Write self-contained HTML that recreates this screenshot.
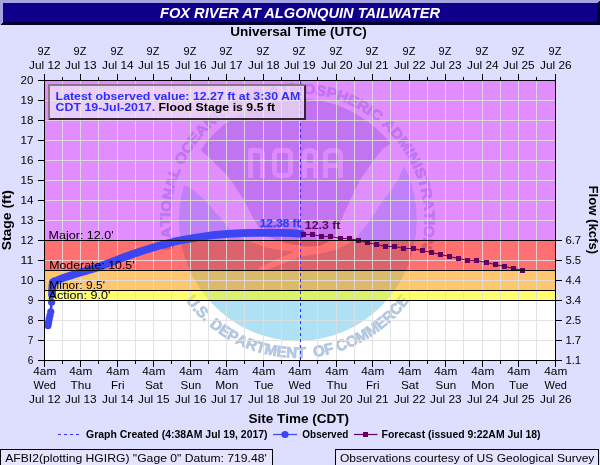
<!DOCTYPE html>
<html><head><meta charset="utf-8"><title>FOX RIVER AT ALGONQUIN TAILWATER</title>
<style>html,body{margin:0;padding:0;background:#dedeff;}svg{display:block;will-change:transform;}text{font-family:"Liberation Sans", sans-serif;}</style></head><body>
<svg width="600" height="465" viewBox="0 0 600 465">
<rect x="0" y="0" width="600" height="465" fill="#dedeff"/>
<g shape-rendering="crispEdges">
<rect x="0" y="0" width="600" height="25" fill="#0f008c"/>
<polygon points="0,0 600,0 597,3 3,3 3,22 0,25" fill="#a3a3dd"/>
<polygon points="600,0 600,25 0,25 3,22 597,22 597,3" fill="#000028"/>
</g>
<text x="300" y="18.2" text-anchor="middle" font-size="14.67" font-weight="bold" font-style="italic" fill="#ffffff" textLength="280" lengthAdjust="spacingAndGlyphs">FOX RIVER AT ALGONQUIN TAILWATER</text>
<rect x="45" y="81" width="510" height="279" fill="#ffffff"/>
<defs><clipPath id="pc"><rect x="45" y="81" width="510" height="279"/></clipPath>
<clipPath id="dc"><ellipse cx="297.9" cy="219.8" rx="119.1" ry="121.3"/></clipPath>
</defs>
<g clip-path="url(#pc)"><g opacity="0.31">
<g clip-path="url(#dc)">
<ellipse cx="297.9" cy="219.8" rx="119.1" ry="121.3" fill="#00a0dc"/>
<polygon points="170,192 181,192 181.5,188.5 183.5,185.8 186.5,186 190.5,188 199,195 205.4,200.5 208.5,203.9 215,212 222.7,220.5 226.5,225.7 230.2,230.2 238,236 246,240 253,242.5 264,247 279,250 294.5,251.4 280,258 259.8,267.3 258,269.5 266.3,270 288,261.8 301,256.4 318,254 338,249 353.6,240.5 369.9,220.5 382.8,200.5 392,189.5 398.5,178.8 402.5,169 404.5,166 407,168 409,175 430,175 430,90 170,90" fill="#ffffff"/>
<polygon points="190,141 200,149.4 208.5,156.9 217,165.5 226.5,174.6 231,180.5 238,191 244.5,201 249.5,211 254.4,220.5 261,230 268,236.5 278,241 290,244 305,246.5 320,246 331,240.5 335,236 341,220.5 350.1,200.5 359.6,180.5 365.7,172 372.7,161.6 383,148.7 391.6,142.7 402,136 402,90 190,90" fill="#10469c"/>
<g fill="none" stroke="#ffffff" stroke-width="5" stroke-linejoin="round" stroke-opacity="0.85">
<path d="M250.5,178 V150.5 H258 Q262.5,150.5 262.5,155 V178"/>
<rect x="274.5" y="150.5" width="16" height="25" rx="4"/>
<path d="M304.5,178 V155 Q304.5,150.5 310,150.5 Q315.5,150.5 315.5,155 V178 M304.5,165.5 H315.5"/>
<path d="M325.5,178 V155 Q325.5,150.5 333,150.5 Q340.5,150.5 340.5,155 V178 M325.5,165.5 H340.5"/>
</g>
</g>
<g font-size="14.2" font-weight="bold" fill="#0a4c9c" stroke="#0a4c9c" stroke-width="0.8">
<text transform="translate(172.41,243.55) rotate(259.56) scale(1.109,1)" text-anchor="middle">N</text><text transform="translate(170.85,232.29) rotate(264.68) scale(1.109,1)" text-anchor="middle">A</text><text transform="translate(170.31,221.81) rotate(269.41) scale(1.109,1)" text-anchor="middle">T</text><text transform="translate(170.43,214.81) rotate(272.56) scale(1.109,1)" text-anchor="middle">I</text><text transform="translate(171.07,206.53) rotate(276.31) scale(1.109,1)" text-anchor="middle">O</text><text transform="translate(172.91,194.86) rotate(281.63) scale(1.109,1)" text-anchor="middle">N</text><text transform="translate(175.70,183.84) rotate(286.75) scale(1.109,1)" text-anchor="middle">A</text><text transform="translate(179.13,173.93) rotate(291.48) scale(1.109,1)" text-anchor="middle">L</text><text transform="translate(185.37,160.44) rotate(298.18) scale(1.109,1)" text-anchor="middle">O</text><text transform="translate(191.43,150.30) rotate(303.50) scale(1.109,1)" text-anchor="middle">C</text><text transform="translate(197.85,141.45) rotate(308.42) scale(1.109,1)" text-anchor="middle">E</text><text transform="translate(205.00,133.18) rotate(313.35) scale(1.109,1)" text-anchor="middle">A</text><text transform="translate(213.17,125.27) rotate(318.47) scale(1.109,1)" text-anchor="middle">N</text><text transform="translate(219.22,120.24) rotate(322.02) scale(1.109,1)" text-anchor="middle">I</text><text transform="translate(225.57,115.59) rotate(325.57) scale(1.109,1)" text-anchor="middle">C</text><text transform="translate(238.69,107.71) rotate(332.46) scale(1.109,1)" text-anchor="middle">A</text><text transform="translate(249.00,102.91) rotate(337.58) scale(1.109,1)" text-anchor="middle">N</text><text transform="translate(259.69,99.05) rotate(342.71) scale(1.109,1)" text-anchor="middle">D</text><text transform="translate(274.55,95.39) rotate(349.60) scale(1.109,1)" text-anchor="middle">A</text><text transform="translate(284.94,93.92) rotate(354.33) scale(1.109,1)" text-anchor="middle">T</text><text transform="translate(296.28,93.31) rotate(359.45) scale(1.109,1)" text-anchor="middle">M</text><text transform="translate(308.95,93.82) rotate(365.17) scale(1.109,1)" text-anchor="middle">O</text><text transform="translate(320.22,95.35) rotate(370.29) scale(1.109,1)" text-anchor="middle">S</text><text transform="translate(330.47,97.65) rotate(375.02) scale(1.109,1)" text-anchor="middle">P</text><text transform="translate(340.90,100.93) rotate(379.95) scale(1.109,1)" text-anchor="middle">H</text><text transform="translate(351.00,105.10) rotate(384.87) scale(1.109,1)" text-anchor="middle">E</text><text transform="translate(360.72,110.12) rotate(389.80) scale(1.109,1)" text-anchor="middle">R</text><text transform="translate(367.42,114.24) rotate(393.35) scale(1.109,1)" text-anchor="middle">I</text><text transform="translate(373.86,118.77) rotate(396.89) scale(1.109,1)" text-anchor="middle">C</text><text transform="translate(385.53,128.68) rotate(403.79) scale(1.109,1)" text-anchor="middle">A</text><text transform="translate(393.37,136.90) rotate(408.91) scale(1.109,1)" text-anchor="middle">D</text><text transform="translate(400.96,146.51) rotate(414.43) scale(1.109,1)" text-anchor="middle">M</text><text transform="translate(405.80,153.79) rotate(418.37) scale(1.109,1)" text-anchor="middle">I</text><text transform="translate(409.72,160.62) rotate(421.92) scale(1.109,1)" text-anchor="middle">N</text><text transform="translate(413.21,167.67) rotate(425.46) scale(1.109,1)" text-anchor="middle">I</text><text transform="translate(416.10,174.53) rotate(428.81) scale(1.109,1)" text-anchor="middle">S</text><text transform="translate(419.36,184.04) rotate(433.34) scale(1.109,1)" text-anchor="middle">T</text><text transform="translate(421.95,194.21) rotate(438.07) scale(1.109,1)" text-anchor="middle">R</text><text transform="translate(423.80,205.43) rotate(443.20) scale(1.109,1)" text-anchor="middle">A</text><text transform="translate(424.62,215.89) rotate(447.92) scale(1.109,1)" text-anchor="middle">T</text><text transform="translate(424.68,222.89) rotate(451.07) scale(1.109,1)" text-anchor="middle">I</text><text transform="translate(424.25,231.19) rotate(454.82) scale(1.109,1)" text-anchor="middle">O</text><text transform="translate(422.71,242.89) rotate(460.14) scale(1.109,1)" text-anchor="middle">N</text>
</g>
<g font-size="15.2" font-weight="bold" fill="#0a4c9c" stroke="#0a4c9c" stroke-width="0.8">
<text transform="translate(188.88,304.65) rotate(52.23) scale(0.991,1)" text-anchor="middle">U</text><text transform="translate(193.66,310.47) rotate(49.09) scale(0.991,1)" text-anchor="middle">.</text><text transform="translate(198.45,315.73) rotate(46.13) scale(0.991,1)" text-anchor="middle">S</text><text transform="translate(203.51,320.72) rotate(43.16) scale(0.991,1)" text-anchor="middle">.</text><text transform="translate(213.37,329.13) rotate(37.76) scale(0.991,1)" text-anchor="middle">D</text><text transform="translate(221.88,335.22) rotate(33.39) scale(0.991,1)" text-anchor="middle">E</text><text transform="translate(230.45,340.43) rotate(29.21) scale(0.991,1)" text-anchor="middle">P</text><text transform="translate(239.77,345.18) rotate(24.85) scale(0.991,1)" text-anchor="middle">A</text><text transform="translate(249.80,349.36) rotate(20.31) scale(0.991,1)" text-anchor="middle">R</text><text transform="translate(259.33,352.49) rotate(16.13) scale(0.991,1)" text-anchor="middle">T</text><text transform="translate(269.88,355.10) rotate(11.59) scale(0.991,1)" text-anchor="middle">M</text><text transform="translate(281.03,356.91) rotate(6.89) scale(0.991,1)" text-anchor="middle">E</text><text transform="translate(291.45,357.77) rotate(2.53) scale(0.991,1)" text-anchor="middle">N</text><text transform="translate(301.48,357.84) rotate(-1.66) scale(0.991,1)" text-anchor="middle">T</text><text transform="translate(319.78,356.08) rotate(-9.33) scale(0.991,1)" text-anchor="middle">O</text><text transform="translate(330.02,354.00) rotate(-13.69) scale(0.991,1)" text-anchor="middle">F</text><text transform="translate(343.24,350.06) rotate(-19.45) scale(0.991,1)" text-anchor="middle">C</text><text transform="translate(353.73,345.87) rotate(-24.16) scale(0.991,1)" text-anchor="middle">O</text><text transform="translate(364.56,340.43) rotate(-29.21) scale(0.991,1)" text-anchor="middle">M</text><text transform="translate(375.21,333.81) rotate(-34.44) scale(0.991,1)" text-anchor="middle">M</text><text transform="translate(384.25,327.05) rotate(-39.15) scale(0.991,1)" text-anchor="middle">E</text><text transform="translate(392.10,320.15) rotate(-43.51) scale(0.991,1)" text-anchor="middle">R</text><text transform="translate(399.68,312.36) rotate(-48.05) scale(0.991,1)" text-anchor="middle">C</text><text transform="translate(406.37,304.32) rotate(-52.41) scale(0.991,1)" text-anchor="middle">E</text>
</g>
</g></g>
<g shape-rendering="crispEdges" fill-opacity="0.56">
<rect x="45" y="81" width="510" height="160" fill="#cc33ff"/>
<rect x="45" y="241" width="510" height="30" fill="#ff0000"/>
<rect x="45" y="271" width="510" height="20" fill="#ff9900"/>
<rect x="45" y="291" width="510" height="10" fill="#ffff00"/>
</g>
<g shape-rendering="crispEdges" stroke="#dedede" stroke-width="1" stroke-opacity="0.86">
<line x1="62.5" y1="81" x2="62.5" y2="360"/>
<line x1="80.5" y1="81" x2="80.5" y2="360"/>
<line x1="98.5" y1="81" x2="98.5" y2="360"/>
<line x1="117.5" y1="81" x2="117.5" y2="360"/>
<line x1="135.5" y1="81" x2="135.5" y2="360"/>
<line x1="153.5" y1="81" x2="153.5" y2="360"/>
<line x1="171.5" y1="81" x2="171.5" y2="360"/>
<line x1="190.5" y1="81" x2="190.5" y2="360"/>
<line x1="208.5" y1="81" x2="208.5" y2="360"/>
<line x1="226.5" y1="81" x2="226.5" y2="360"/>
<line x1="244.5" y1="81" x2="244.5" y2="360"/>
<line x1="263.5" y1="81" x2="263.5" y2="360"/>
<line x1="281.5" y1="81" x2="281.5" y2="360"/>
<line x1="299.5" y1="81" x2="299.5" y2="360"/>
<line x1="317.5" y1="81" x2="317.5" y2="360"/>
<line x1="336.5" y1="81" x2="336.5" y2="360"/>
<line x1="354.5" y1="81" x2="354.5" y2="360"/>
<line x1="372.5" y1="81" x2="372.5" y2="360"/>
<line x1="390.5" y1="81" x2="390.5" y2="360"/>
<line x1="409.5" y1="81" x2="409.5" y2="360"/>
<line x1="427.5" y1="81" x2="427.5" y2="360"/>
<line x1="445.5" y1="81" x2="445.5" y2="360"/>
<line x1="463.5" y1="81" x2="463.5" y2="360"/>
<line x1="482.5" y1="81" x2="482.5" y2="360"/>
<line x1="500.5" y1="81" x2="500.5" y2="360"/>
<line x1="518.5" y1="81" x2="518.5" y2="360"/>
<line x1="536.5" y1="81" x2="536.5" y2="360"/>
<line x1="45" y1="100.5" x2="555" y2="100.5"/>
<line x1="45" y1="120.5" x2="555" y2="120.5"/>
<line x1="45" y1="140.5" x2="555" y2="140.5"/>
<line x1="45" y1="160.5" x2="555" y2="160.5"/>
<line x1="45" y1="180.5" x2="555" y2="180.5"/>
<line x1="45" y1="200.5" x2="555" y2="200.5"/>
<line x1="45" y1="220.5" x2="555" y2="220.5"/>
<line x1="45" y1="240.5" x2="555" y2="240.5"/>
<line x1="45" y1="260.5" x2="555" y2="260.5"/>
<line x1="45" y1="280.5" x2="555" y2="280.5"/>
<line x1="45" y1="300.5" x2="555" y2="300.5"/>
<line x1="45" y1="320.5" x2="555" y2="320.5"/>
<line x1="45" y1="340.5" x2="555" y2="340.5"/>
</g>
<polyline points="48,325.3 49.3,318.7 50.7,312 51.6,302 52,294.7" fill="none" stroke="#3b45f2" stroke-width="2.6"/>
<g fill="#3b45f2">
<circle cx="48" cy="325.6" r="3.6"/>
<circle cx="48.5" cy="322.6" r="3.6"/>
<circle cx="49.2" cy="319.2" r="3.6"/>
<circle cx="50" cy="315.6" r="3.6"/>
<circle cx="50.8" cy="311.8" r="3.6"/>
<circle cx="51.6" cy="302.2" r="3.6"/>
</g>
<polyline points="52.0,294.7 52.3,288.0 52.9,282.0 55.0,281.0 57.3,280.4 64.0,277.6 70.7,275.5 77.3,273.4 84.0,271.4 97.3,267.5 110.0,262.6 120.0,258.7 133.0,254.0 146.7,249.4 160.0,245.4 173.3,241.9 186.0,239.3 200.0,237.0 213.0,235.2 227.5,233.9 241.0,233.2 255.0,232.8 282.6,232.8 293.0,233.2 301.0,233.9" fill="none" stroke="#3b45f2" stroke-width="7.8" stroke-linecap="round" stroke-linejoin="round"/>
<line x1="300.5" y1="81" x2="300.5" y2="360" stroke="#3030ff" stroke-width="1" stroke-dasharray="3,3" shape-rendering="crispEdges"/>
<polyline points="303.6,234.5 312.7,234.5 321.9,236.5 331.0,236.5 340.1,238.5 349.2,238.5 358.4,240.5 367.5,242.5 376.6,244.5 385.7,246.5 394.9,246.5 404.0,248.5 413.1,248.5 422.2,250.5 431.4,252.5 440.5,254.5 449.6,256.5 458.7,258.5 467.9,260.5 477.0,260.5 486.1,262.5 495.2,264.5 504.4,266.5 513.5,268.5 522.6,270.5" fill="none" stroke="#620062" stroke-width="1.2"/>
<g fill="#620062" shape-rendering="crispEdges">
<rect x="301" y="232" width="5" height="5"/>
<rect x="310" y="232" width="5" height="5"/>
<rect x="319" y="234" width="5" height="5"/>
<rect x="328" y="234" width="5" height="5"/>
<rect x="338" y="236" width="5" height="5"/>
<rect x="347" y="236" width="5" height="5"/>
<rect x="356" y="238" width="5" height="5"/>
<rect x="365" y="240" width="5" height="5"/>
<rect x="374" y="242" width="5" height="5"/>
<rect x="383" y="244" width="5" height="5"/>
<rect x="392" y="244" width="5" height="5"/>
<rect x="401" y="246" width="5" height="5"/>
<rect x="411" y="246" width="5" height="5"/>
<rect x="420" y="248" width="5" height="5"/>
<rect x="429" y="250" width="5" height="5"/>
<rect x="438" y="252" width="5" height="5"/>
<rect x="447" y="254" width="5" height="5"/>
<rect x="456" y="256" width="5" height="5"/>
<rect x="465" y="258" width="5" height="5"/>
<rect x="474" y="258" width="5" height="5"/>
<rect x="484" y="260" width="5" height="5"/>
<rect x="493" y="262" width="5" height="5"/>
<rect x="502" y="264" width="5" height="5"/>
<rect x="511" y="266" width="5" height="5"/>
<rect x="520" y="268" width="5" height="5"/>
</g>
<g shape-rendering="crispEdges" stroke="#000000" stroke-width="1">
<line x1="45" y1="240.5" x2="555" y2="240.5"/>
<line x1="45" y1="270.5" x2="555" y2="270.5"/>
<line x1="45" y1="290.5" x2="555" y2="290.5"/>
<line x1="45" y1="300.5" x2="555" y2="300.5"/>
</g>
<text x="48.6" y="239" font-size="10.9" fill="#000000" textLength="65" lengthAdjust="spacingAndGlyphs">Major: 12.0'</text>
<text x="49.2" y="269" font-size="10.9" fill="#000000" textLength="85.4" lengthAdjust="spacingAndGlyphs">Moderate: 10.5'</text>
<text x="49.2" y="289" font-size="10.9" fill="#000000" textLength="55.8" lengthAdjust="spacingAndGlyphs">Minor: 9.5'</text>
<text x="48.6" y="299" font-size="10.9" fill="#000000" textLength="61.8" lengthAdjust="spacingAndGlyphs">Action: 9.0'</text>
<text x="259.8" y="227.2" font-size="10.67" font-weight="bold" fill="#3442f0" stroke="#3442f0" stroke-width="0.25" textLength="40.6" lengthAdjust="spacingAndGlyphs">12.38 ft</text>
<text x="304.8" y="229.4" font-size="10.67" font-weight="bold" fill="#620062" textLength="35.6" lengthAdjust="spacingAndGlyphs">12.3 ft</text>
<g shape-rendering="crispEdges">
<rect x="48" y="84" width="258" height="36" fill="#f0f0f0" fill-opacity="0.66"/>
<polygon points="48,84 306,84 304,86 50,86 50,118 48,120" fill="#8c748c"/>
<polygon points="306,84 306,120 48,120 50,118 304,118 304,86" fill="#3c203c"/>
</g>
<text x="55.6" y="99.6" font-size="10.3" font-weight="bold" fill="#2e2eff" textLength="244.6" lengthAdjust="spacingAndGlyphs">Latest observed value: 12.27 ft at 3:30 AM</text>
<text x="55.6" y="110.7" font-size="10.3" font-weight="bold" textLength="219.6" lengthAdjust="spacingAndGlyphs"><tspan fill="#2e2eff">CDT 19-Jul-2017.</tspan><tspan fill="#000000"> Flood Stage is 9.5 ft</tspan></text>
<g shape-rendering="crispEdges" stroke="#000000" stroke-width="1" fill="none">
<rect x="44.5" y="80.5" width="511" height="280"/>
<line x1="44.5" y1="74" x2="44.5" y2="80"/>
<line x1="44.5" y1="361" x2="44.5" y2="367"/>
<line x1="62.5" y1="77" x2="62.5" y2="80"/>
<line x1="62.5" y1="361" x2="62.5" y2="364"/>
<line x1="80.5" y1="74" x2="80.5" y2="80"/>
<line x1="80.5" y1="361" x2="80.5" y2="367"/>
<line x1="98.5" y1="77" x2="98.5" y2="80"/>
<line x1="98.5" y1="361" x2="98.5" y2="364"/>
<line x1="117.5" y1="74" x2="117.5" y2="80"/>
<line x1="117.5" y1="361" x2="117.5" y2="367"/>
<line x1="135.5" y1="77" x2="135.5" y2="80"/>
<line x1="135.5" y1="361" x2="135.5" y2="364"/>
<line x1="153.5" y1="74" x2="153.5" y2="80"/>
<line x1="153.5" y1="361" x2="153.5" y2="367"/>
<line x1="171.5" y1="77" x2="171.5" y2="80"/>
<line x1="171.5" y1="361" x2="171.5" y2="364"/>
<line x1="190.5" y1="74" x2="190.5" y2="80"/>
<line x1="190.5" y1="361" x2="190.5" y2="367"/>
<line x1="208.5" y1="77" x2="208.5" y2="80"/>
<line x1="208.5" y1="361" x2="208.5" y2="364"/>
<line x1="226.5" y1="74" x2="226.5" y2="80"/>
<line x1="226.5" y1="361" x2="226.5" y2="367"/>
<line x1="244.5" y1="77" x2="244.5" y2="80"/>
<line x1="244.5" y1="361" x2="244.5" y2="364"/>
<line x1="263.5" y1="74" x2="263.5" y2="80"/>
<line x1="263.5" y1="361" x2="263.5" y2="367"/>
<line x1="281.5" y1="77" x2="281.5" y2="80"/>
<line x1="281.5" y1="361" x2="281.5" y2="364"/>
<line x1="299.5" y1="74" x2="299.5" y2="80"/>
<line x1="299.5" y1="361" x2="299.5" y2="367"/>
<line x1="317.5" y1="77" x2="317.5" y2="80"/>
<line x1="317.5" y1="361" x2="317.5" y2="364"/>
<line x1="336.5" y1="74" x2="336.5" y2="80"/>
<line x1="336.5" y1="361" x2="336.5" y2="367"/>
<line x1="354.5" y1="77" x2="354.5" y2="80"/>
<line x1="354.5" y1="361" x2="354.5" y2="364"/>
<line x1="372.5" y1="74" x2="372.5" y2="80"/>
<line x1="372.5" y1="361" x2="372.5" y2="367"/>
<line x1="390.5" y1="77" x2="390.5" y2="80"/>
<line x1="390.5" y1="361" x2="390.5" y2="364"/>
<line x1="409.5" y1="74" x2="409.5" y2="80"/>
<line x1="409.5" y1="361" x2="409.5" y2="367"/>
<line x1="427.5" y1="77" x2="427.5" y2="80"/>
<line x1="427.5" y1="361" x2="427.5" y2="364"/>
<line x1="445.5" y1="74" x2="445.5" y2="80"/>
<line x1="445.5" y1="361" x2="445.5" y2="367"/>
<line x1="463.5" y1="77" x2="463.5" y2="80"/>
<line x1="463.5" y1="361" x2="463.5" y2="364"/>
<line x1="482.5" y1="74" x2="482.5" y2="80"/>
<line x1="482.5" y1="361" x2="482.5" y2="367"/>
<line x1="500.5" y1="77" x2="500.5" y2="80"/>
<line x1="500.5" y1="361" x2="500.5" y2="364"/>
<line x1="518.5" y1="74" x2="518.5" y2="80"/>
<line x1="518.5" y1="361" x2="518.5" y2="367"/>
<line x1="536.5" y1="77" x2="536.5" y2="80"/>
<line x1="536.5" y1="361" x2="536.5" y2="364"/>
<line x1="555.5" y1="74" x2="555.5" y2="80"/>
<line x1="555.5" y1="361" x2="555.5" y2="367"/>
<line x1="38" y1="80.5" x2="44" y2="80.5"/>
<line x1="38" y1="100.5" x2="44" y2="100.5"/>
<line x1="38" y1="120.5" x2="44" y2="120.5"/>
<line x1="38" y1="140.5" x2="44" y2="140.5"/>
<line x1="38" y1="160.5" x2="44" y2="160.5"/>
<line x1="38" y1="180.5" x2="44" y2="180.5"/>
<line x1="38" y1="200.5" x2="44" y2="200.5"/>
<line x1="38" y1="220.5" x2="44" y2="220.5"/>
<line x1="38" y1="240.5" x2="44" y2="240.5"/>
<line x1="556" y1="240.5" x2="562" y2="240.5"/>
<line x1="38" y1="260.5" x2="44" y2="260.5"/>
<line x1="556" y1="260.5" x2="562" y2="260.5"/>
<line x1="38" y1="280.5" x2="44" y2="280.5"/>
<line x1="556" y1="280.5" x2="562" y2="280.5"/>
<line x1="38" y1="300.5" x2="44" y2="300.5"/>
<line x1="556" y1="300.5" x2="562" y2="300.5"/>
<line x1="38" y1="320.5" x2="44" y2="320.5"/>
<line x1="556" y1="320.5" x2="562" y2="320.5"/>
<line x1="38" y1="340.5" x2="44" y2="340.5"/>
<line x1="556" y1="340.5" x2="562" y2="340.5"/>
<line x1="38" y1="360.5" x2="44" y2="360.5"/>
<line x1="556" y1="360.5" x2="562" y2="360.5"/>
</g>
<text x="44.0" y="55" text-anchor="middle" font-size="10.3" fill="#000000" textLength="12.8" lengthAdjust="spacingAndGlyphs">9Z</text>
<text x="44.8" y="69" text-anchor="middle" font-size="10.3" fill="#000000" textLength="31.6" lengthAdjust="spacingAndGlyphs">Jul 12</text>
<text x="44.8" y="375" text-anchor="middle" font-size="10.3" fill="#000000" textLength="23" lengthAdjust="spacingAndGlyphs">4am</text>
<text x="44.8" y="389" text-anchor="middle" font-size="10.3" fill="#000000" textLength="22.4" lengthAdjust="spacingAndGlyphs">Wed</text>
<text x="44.8" y="403" text-anchor="middle" font-size="10.3" fill="#000000" textLength="31.6" lengthAdjust="spacingAndGlyphs">Jul 12</text>
<text x="80.0" y="55" text-anchor="middle" font-size="10.3" fill="#000000" textLength="12.8" lengthAdjust="spacingAndGlyphs">9Z</text>
<text x="80.8" y="69" text-anchor="middle" font-size="10.3" fill="#000000" textLength="31.6" lengthAdjust="spacingAndGlyphs">Jul 13</text>
<text x="80.8" y="375" text-anchor="middle" font-size="10.3" fill="#000000" textLength="23" lengthAdjust="spacingAndGlyphs">4am</text>
<text x="80.8" y="389" text-anchor="middle" font-size="10.3" fill="#000000" textLength="20.6" lengthAdjust="spacingAndGlyphs">Thu</text>
<text x="80.8" y="403" text-anchor="middle" font-size="10.3" fill="#000000" textLength="31.6" lengthAdjust="spacingAndGlyphs">Jul 13</text>
<text x="117.0" y="55" text-anchor="middle" font-size="10.3" fill="#000000" textLength="12.8" lengthAdjust="spacingAndGlyphs">9Z</text>
<text x="117.8" y="69" text-anchor="middle" font-size="10.3" fill="#000000" textLength="31.6" lengthAdjust="spacingAndGlyphs">Jul 14</text>
<text x="117.8" y="375" text-anchor="middle" font-size="10.3" fill="#000000" textLength="23" lengthAdjust="spacingAndGlyphs">4am</text>
<text x="117.8" y="389" text-anchor="middle" font-size="10.3" fill="#000000" textLength="13.4" lengthAdjust="spacingAndGlyphs">Fri</text>
<text x="117.8" y="403" text-anchor="middle" font-size="10.3" fill="#000000" textLength="31.6" lengthAdjust="spacingAndGlyphs">Jul 14</text>
<text x="153.0" y="55" text-anchor="middle" font-size="10.3" fill="#000000" textLength="12.8" lengthAdjust="spacingAndGlyphs">9Z</text>
<text x="153.8" y="69" text-anchor="middle" font-size="10.3" fill="#000000" textLength="31.6" lengthAdjust="spacingAndGlyphs">Jul 15</text>
<text x="153.8" y="375" text-anchor="middle" font-size="10.3" fill="#000000" textLength="23" lengthAdjust="spacingAndGlyphs">4am</text>
<text x="153.8" y="389" text-anchor="middle" font-size="10.3" fill="#000000" textLength="17.8" lengthAdjust="spacingAndGlyphs">Sat</text>
<text x="153.8" y="403" text-anchor="middle" font-size="10.3" fill="#000000" textLength="31.6" lengthAdjust="spacingAndGlyphs">Jul 15</text>
<text x="190.0" y="55" text-anchor="middle" font-size="10.3" fill="#000000" textLength="12.8" lengthAdjust="spacingAndGlyphs">9Z</text>
<text x="190.8" y="69" text-anchor="middle" font-size="10.3" fill="#000000" textLength="31.6" lengthAdjust="spacingAndGlyphs">Jul 16</text>
<text x="190.8" y="375" text-anchor="middle" font-size="10.3" fill="#000000" textLength="23" lengthAdjust="spacingAndGlyphs">4am</text>
<text x="190.8" y="389" text-anchor="middle" font-size="10.3" fill="#000000" textLength="20.6" lengthAdjust="spacingAndGlyphs">Sun</text>
<text x="190.8" y="403" text-anchor="middle" font-size="10.3" fill="#000000" textLength="31.6" lengthAdjust="spacingAndGlyphs">Jul 16</text>
<text x="226.0" y="55" text-anchor="middle" font-size="10.3" fill="#000000" textLength="12.8" lengthAdjust="spacingAndGlyphs">9Z</text>
<text x="226.8" y="69" text-anchor="middle" font-size="10.3" fill="#000000" textLength="31.6" lengthAdjust="spacingAndGlyphs">Jul 17</text>
<text x="226.8" y="375" text-anchor="middle" font-size="10.3" fill="#000000" textLength="23" lengthAdjust="spacingAndGlyphs">4am</text>
<text x="226.8" y="389" text-anchor="middle" font-size="10.3" fill="#000000" textLength="23.2" lengthAdjust="spacingAndGlyphs">Mon</text>
<text x="226.8" y="403" text-anchor="middle" font-size="10.3" fill="#000000" textLength="31.6" lengthAdjust="spacingAndGlyphs">Jul 17</text>
<text x="263.0" y="55" text-anchor="middle" font-size="10.3" fill="#000000" textLength="12.8" lengthAdjust="spacingAndGlyphs">9Z</text>
<text x="263.8" y="69" text-anchor="middle" font-size="10.3" fill="#000000" textLength="31.6" lengthAdjust="spacingAndGlyphs">Jul 18</text>
<text x="263.8" y="375" text-anchor="middle" font-size="10.3" fill="#000000" textLength="23" lengthAdjust="spacingAndGlyphs">4am</text>
<text x="263.8" y="389" text-anchor="middle" font-size="10.3" fill="#000000" textLength="19.6" lengthAdjust="spacingAndGlyphs">Tue</text>
<text x="263.8" y="403" text-anchor="middle" font-size="10.3" fill="#000000" textLength="31.6" lengthAdjust="spacingAndGlyphs">Jul 18</text>
<text x="299.0" y="55" text-anchor="middle" font-size="10.3" fill="#000000" textLength="12.8" lengthAdjust="spacingAndGlyphs">9Z</text>
<text x="299.8" y="69" text-anchor="middle" font-size="10.3" fill="#000000" textLength="31.6" lengthAdjust="spacingAndGlyphs">Jul 19</text>
<text x="299.8" y="375" text-anchor="middle" font-size="10.3" fill="#000000" textLength="23" lengthAdjust="spacingAndGlyphs">4am</text>
<text x="299.8" y="389" text-anchor="middle" font-size="10.3" fill="#000000" textLength="22.4" lengthAdjust="spacingAndGlyphs">Wed</text>
<text x="299.8" y="403" text-anchor="middle" font-size="10.3" fill="#000000" textLength="31.6" lengthAdjust="spacingAndGlyphs">Jul 19</text>
<text x="336.0" y="55" text-anchor="middle" font-size="10.3" fill="#000000" textLength="12.8" lengthAdjust="spacingAndGlyphs">9Z</text>
<text x="336.8" y="69" text-anchor="middle" font-size="10.3" fill="#000000" textLength="31.6" lengthAdjust="spacingAndGlyphs">Jul 20</text>
<text x="336.8" y="375" text-anchor="middle" font-size="10.3" fill="#000000" textLength="23" lengthAdjust="spacingAndGlyphs">4am</text>
<text x="336.8" y="389" text-anchor="middle" font-size="10.3" fill="#000000" textLength="20.6" lengthAdjust="spacingAndGlyphs">Thu</text>
<text x="336.8" y="403" text-anchor="middle" font-size="10.3" fill="#000000" textLength="31.6" lengthAdjust="spacingAndGlyphs">Jul 20</text>
<text x="372.0" y="55" text-anchor="middle" font-size="10.3" fill="#000000" textLength="12.8" lengthAdjust="spacingAndGlyphs">9Z</text>
<text x="372.8" y="69" text-anchor="middle" font-size="10.3" fill="#000000" textLength="31.6" lengthAdjust="spacingAndGlyphs">Jul 21</text>
<text x="372.8" y="375" text-anchor="middle" font-size="10.3" fill="#000000" textLength="23" lengthAdjust="spacingAndGlyphs">4am</text>
<text x="372.8" y="389" text-anchor="middle" font-size="10.3" fill="#000000" textLength="13.4" lengthAdjust="spacingAndGlyphs">Fri</text>
<text x="372.8" y="403" text-anchor="middle" font-size="10.3" fill="#000000" textLength="31.6" lengthAdjust="spacingAndGlyphs">Jul 21</text>
<text x="409.0" y="55" text-anchor="middle" font-size="10.3" fill="#000000" textLength="12.8" lengthAdjust="spacingAndGlyphs">9Z</text>
<text x="409.8" y="69" text-anchor="middle" font-size="10.3" fill="#000000" textLength="31.6" lengthAdjust="spacingAndGlyphs">Jul 22</text>
<text x="409.8" y="375" text-anchor="middle" font-size="10.3" fill="#000000" textLength="23" lengthAdjust="spacingAndGlyphs">4am</text>
<text x="409.8" y="389" text-anchor="middle" font-size="10.3" fill="#000000" textLength="17.8" lengthAdjust="spacingAndGlyphs">Sat</text>
<text x="409.8" y="403" text-anchor="middle" font-size="10.3" fill="#000000" textLength="31.6" lengthAdjust="spacingAndGlyphs">Jul 22</text>
<text x="445.0" y="55" text-anchor="middle" font-size="10.3" fill="#000000" textLength="12.8" lengthAdjust="spacingAndGlyphs">9Z</text>
<text x="445.8" y="69" text-anchor="middle" font-size="10.3" fill="#000000" textLength="31.6" lengthAdjust="spacingAndGlyphs">Jul 23</text>
<text x="445.8" y="375" text-anchor="middle" font-size="10.3" fill="#000000" textLength="23" lengthAdjust="spacingAndGlyphs">4am</text>
<text x="445.8" y="389" text-anchor="middle" font-size="10.3" fill="#000000" textLength="20.6" lengthAdjust="spacingAndGlyphs">Sun</text>
<text x="445.8" y="403" text-anchor="middle" font-size="10.3" fill="#000000" textLength="31.6" lengthAdjust="spacingAndGlyphs">Jul 23</text>
<text x="482.0" y="55" text-anchor="middle" font-size="10.3" fill="#000000" textLength="12.8" lengthAdjust="spacingAndGlyphs">9Z</text>
<text x="482.8" y="69" text-anchor="middle" font-size="10.3" fill="#000000" textLength="31.6" lengthAdjust="spacingAndGlyphs">Jul 24</text>
<text x="482.8" y="375" text-anchor="middle" font-size="10.3" fill="#000000" textLength="23" lengthAdjust="spacingAndGlyphs">4am</text>
<text x="482.8" y="389" text-anchor="middle" font-size="10.3" fill="#000000" textLength="23.2" lengthAdjust="spacingAndGlyphs">Mon</text>
<text x="482.8" y="403" text-anchor="middle" font-size="10.3" fill="#000000" textLength="31.6" lengthAdjust="spacingAndGlyphs">Jul 24</text>
<text x="518.0" y="55" text-anchor="middle" font-size="10.3" fill="#000000" textLength="12.8" lengthAdjust="spacingAndGlyphs">9Z</text>
<text x="518.8" y="69" text-anchor="middle" font-size="10.3" fill="#000000" textLength="31.6" lengthAdjust="spacingAndGlyphs">Jul 25</text>
<text x="518.8" y="375" text-anchor="middle" font-size="10.3" fill="#000000" textLength="23" lengthAdjust="spacingAndGlyphs">4am</text>
<text x="518.8" y="389" text-anchor="middle" font-size="10.3" fill="#000000" textLength="19.6" lengthAdjust="spacingAndGlyphs">Tue</text>
<text x="518.8" y="403" text-anchor="middle" font-size="10.3" fill="#000000" textLength="31.6" lengthAdjust="spacingAndGlyphs">Jul 25</text>
<text x="555.0" y="55" text-anchor="middle" font-size="10.3" fill="#000000" textLength="12.8" lengthAdjust="spacingAndGlyphs">9Z</text>
<text x="555.8" y="69" text-anchor="middle" font-size="10.3" fill="#000000" textLength="31.6" lengthAdjust="spacingAndGlyphs">Jul 26</text>
<text x="555.8" y="375" text-anchor="middle" font-size="10.3" fill="#000000" textLength="23" lengthAdjust="spacingAndGlyphs">4am</text>
<text x="555.8" y="389" text-anchor="middle" font-size="10.3" fill="#000000" textLength="22.4" lengthAdjust="spacingAndGlyphs">Wed</text>
<text x="555.8" y="403" text-anchor="middle" font-size="10.3" fill="#000000" textLength="31.6" lengthAdjust="spacingAndGlyphs">Jul 26</text>
<text x="33.4" y="84.2" text-anchor="end" font-size="10.3" fill="#000000" textLength="12.8" lengthAdjust="spacingAndGlyphs">20</text>
<text x="33.4" y="104.2" text-anchor="end" font-size="10.3" fill="#000000" textLength="12.8" lengthAdjust="spacingAndGlyphs">19</text>
<text x="33.4" y="124.2" text-anchor="end" font-size="10.3" fill="#000000" textLength="12.8" lengthAdjust="spacingAndGlyphs">18</text>
<text x="33.4" y="144.2" text-anchor="end" font-size="10.3" fill="#000000" textLength="12.8" lengthAdjust="spacingAndGlyphs">17</text>
<text x="33.4" y="164.2" text-anchor="end" font-size="10.3" fill="#000000" textLength="12.8" lengthAdjust="spacingAndGlyphs">16</text>
<text x="33.4" y="184.2" text-anchor="end" font-size="10.3" fill="#000000" textLength="12.8" lengthAdjust="spacingAndGlyphs">15</text>
<text x="33.4" y="204.2" text-anchor="end" font-size="10.3" fill="#000000" textLength="12.8" lengthAdjust="spacingAndGlyphs">14</text>
<text x="33.4" y="224.2" text-anchor="end" font-size="10.3" fill="#000000" textLength="12.8" lengthAdjust="spacingAndGlyphs">13</text>
<text x="33.4" y="244.2" text-anchor="end" font-size="10.3" fill="#000000" textLength="12.8" lengthAdjust="spacingAndGlyphs">12</text>
<text x="33.4" y="264.2" text-anchor="end" font-size="10.3" fill="#000000" textLength="12.8" lengthAdjust="spacingAndGlyphs">11</text>
<text x="33.4" y="284.2" text-anchor="end" font-size="10.3" fill="#000000" textLength="12.8" lengthAdjust="spacingAndGlyphs">10</text>
<text x="33.4" y="304.2" text-anchor="end" font-size="10.3" fill="#000000" textLength="5.6" lengthAdjust="spacingAndGlyphs">9</text>
<text x="33.4" y="324.2" text-anchor="end" font-size="10.3" fill="#000000" textLength="5.6" lengthAdjust="spacingAndGlyphs">8</text>
<text x="33.4" y="344.2" text-anchor="end" font-size="10.3" fill="#000000" textLength="5.6" lengthAdjust="spacingAndGlyphs">7</text>
<text x="33.4" y="364.2" text-anchor="end" font-size="10.3" fill="#000000" textLength="5.6" lengthAdjust="spacingAndGlyphs">6</text>
<text x="565.4" y="244.2" font-size="10.3" fill="#000000" textLength="15.8" lengthAdjust="spacingAndGlyphs">6.7</text>
<text x="565.4" y="264.2" font-size="10.3" fill="#000000" textLength="15.8" lengthAdjust="spacingAndGlyphs">5.5</text>
<text x="565.4" y="284.2" font-size="10.3" fill="#000000" textLength="15.8" lengthAdjust="spacingAndGlyphs">4.4</text>
<text x="565.4" y="304.2" font-size="10.3" fill="#000000" textLength="15.8" lengthAdjust="spacingAndGlyphs">3.4</text>
<text x="565.4" y="324.2" font-size="10.3" fill="#000000" textLength="15.8" lengthAdjust="spacingAndGlyphs">2.5</text>
<text x="565.4" y="344.2" font-size="10.3" fill="#000000" textLength="15.8" lengthAdjust="spacingAndGlyphs">1.7</text>
<text x="565.4" y="364.2" font-size="10.3" fill="#000000" textLength="15.8" lengthAdjust="spacingAndGlyphs">1.1</text>
<text x="298.5" y="35.6" text-anchor="middle" font-size="13.33" font-weight="bold" fill="#000000" textLength="136.6" lengthAdjust="spacingAndGlyphs">Universal Time (UTC)</text>
<text x="298.8" y="423" text-anchor="middle" font-size="13.33" font-weight="bold" fill="#000000" textLength="100.6" lengthAdjust="spacingAndGlyphs">Site Time (CDT)</text>
<text transform="translate(11.2,220.2) rotate(-90)" text-anchor="middle" font-size="13.33" font-weight="bold" fill="#000000" textLength="60.2" lengthAdjust="spacingAndGlyphs">Stage (ft)</text>
<text transform="translate(589.3,219.8) rotate(90)" text-anchor="middle" font-size="13.33" font-weight="bold" fill="#000000" textLength="68.6" lengthAdjust="spacingAndGlyphs">Flow (kcfs)</text>
<line x1="58" y1="434.5" x2="80" y2="434.5" stroke="#3030ff" stroke-width="1" stroke-dasharray="3,3" shape-rendering="crispEdges"/>
<text x="86" y="437.8" font-size="10.67" font-weight="bold" fill="#000000" textLength="181.6" lengthAdjust="spacingAndGlyphs">Graph Created (4:38AM Jul 19, 2017)</text>
<line x1="273" y1="434.5" x2="297" y2="434.5" stroke="#3b45f2" stroke-width="1.2"/>
<circle cx="285" cy="434.5" r="3.6" fill="#3b45f2"/>
<text x="302.3" y="437.8" font-size="10.67" font-weight="bold" fill="#000000" textLength="46" lengthAdjust="spacingAndGlyphs">Observed</text>
<line x1="354" y1="434.5" x2="377.5" y2="434.5" stroke="#620062" stroke-width="1.2"/>
<rect x="363" y="432" width="5" height="5" fill="#620062" shape-rendering="crispEdges"/>
<text x="381.6" y="437.8" font-size="10.67" font-weight="bold" fill="#000000" textLength="159" lengthAdjust="spacingAndGlyphs">Forecast (issued 9:22AM Jul 18)</text>
<g shape-rendering="crispEdges">
<rect x="0.5" y="449.5" width="272" height="20" fill="#e4e4ff" stroke="#000000" stroke-width="1"/>
<rect x="335.5" y="449.5" width="263" height="20" fill="#e4e4ff" stroke="#000000" stroke-width="1"/>
</g>
<text x="5.2" y="462" font-size="10.9" fill="#000000" textLength="261.6" lengthAdjust="spacingAndGlyphs">AFBI2(plotting HGIRG) &quot;Gage 0&quot; Datum: 719.48'</text>
<text x="340" y="462" font-size="10.9" fill="#000000" textLength="254.4" lengthAdjust="spacingAndGlyphs">Observations courtesy of US Geological Survey</text>
</svg></body></html>
